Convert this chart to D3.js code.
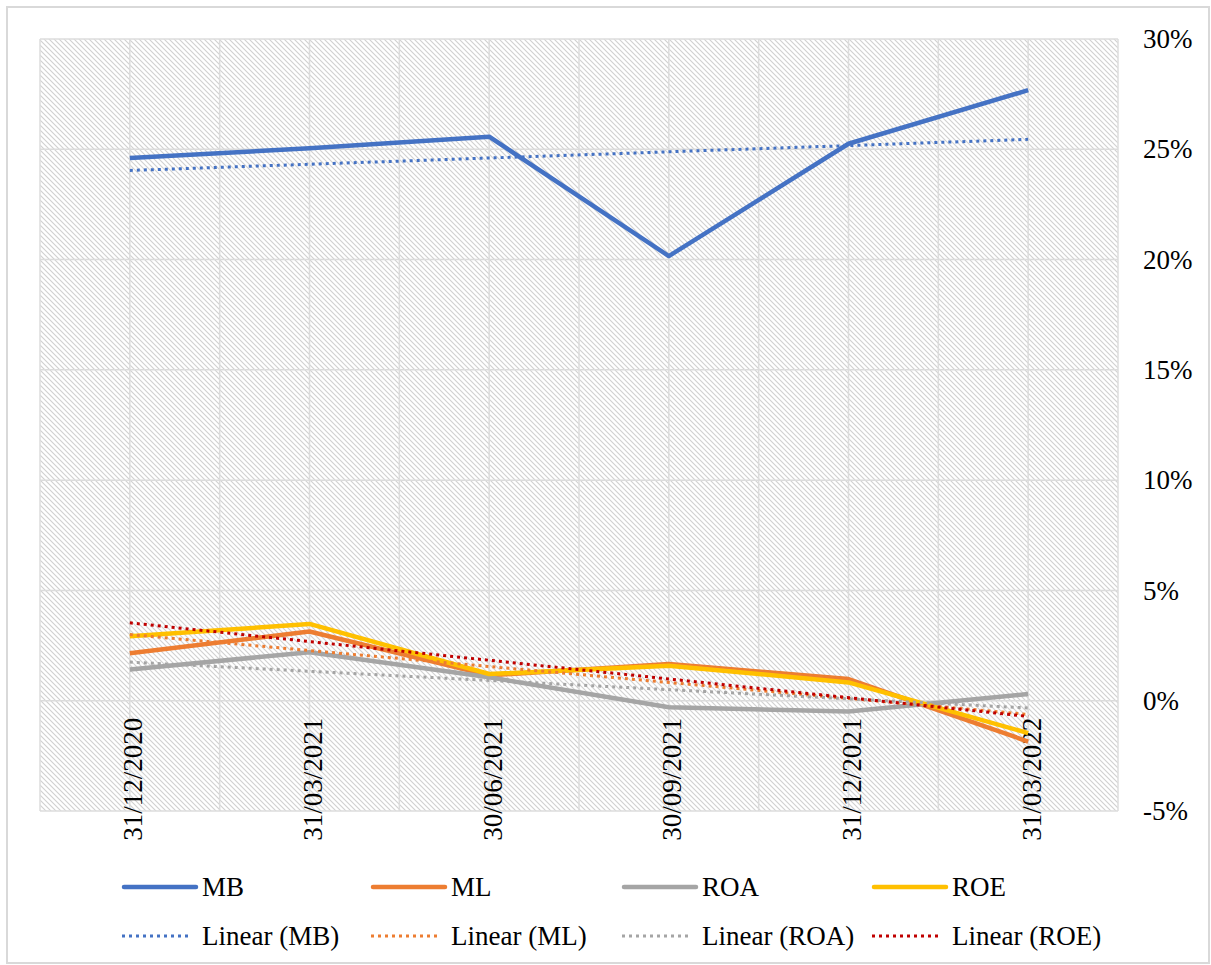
<!DOCTYPE html>
<html>
<head>
<meta charset="utf-8">
<script src="https://cdn.jsdelivr.net/npm/d3@7"></script>
<style>
  body { margin: 0; background: #fff; }
  svg { display: block; }
</style>
</head>
<body>
<div class="chart"></div>
<script>
// values (percent)
var categories = ["31/12/2020", "31/03/2021", "30/06/2021", "30/09/2021", "31/12/2021", "31/03/2022"];
var seriesNames = ["MB", "ML", "ROA", "ROE"];
var mbValues  = [24.6, 25.05, 25.57, 20.16, 25.25, 27.68];
var mlValues  = [2.15, 3.14, 1.15, 1.67, 0.98, -1.85];
var roaValues = [1.41, 2.2, 1.06, -0.3, -0.49, 0.3];
var roeValues = [2.92, 3.48, 1.21, 1.59, 0.83, -1.47];
// linear trend lines: value at first and last category
var trendStart = [24.04, 3.0, 1.75, 3.53];
var trendEnd   = [25.45, -0.62, -0.33, -0.71];
var yTicks = [-5, 0, 5, 10, 15, 20, 25, 30];

var colors = ["#4472C4", "#ED7D31", "#A5A5A5", "#FFC000"];
var trendColors = ["#4472C4", "#ED7D31", "#A5A5A5", "#C00000"];
var allValues = [mbValues, mlValues, roaValues, roeValues];
var serif = "'Liberation Serif', 'Times New Roman', Times, Tinos, 'Nimbus Roman', 'Nimbus Roman No9 L', FreeSerif, 'Noto Serif', 'DejaVu Serif', 'Noto Serif CJK SC', serif";

var W = 1211, H = 965;
var plot = {left: 40, right: 1118, top: 39, bottom: 811};

var svg = d3.select(".chart").append("svg")
    .attr("width", W)
    .attr("height", H);

// hatch pattern for the plot area
var defs = svg.append("defs");
var pat = defs.append("pattern")
    .attr("id", "hatch")
    .attr("patternUnits", "userSpaceOnUse")
    .attr("width", 5)
    .attr("height", 5);
pat.append("rect").attr("width", 5).attr("height", 5).attr("fill", "#fff");
pat.append("path")
    .attr("d", "M-1,-1 L6,6 M-1,4 L1,6 M4,-1 L6,1")
    .attr("stroke", "#d0d0d0")
    .attr("stroke-width", 1.1);

// outer chart border
svg.append("rect")
    .attr("x", 7).attr("y", 7)
    .attr("width", 1202).attr("height", 956)
    .attr("fill", "#fff")
    .attr("stroke", "#d9d9d9")
    .attr("stroke-width", 2);

var x = d3.scalePoint()
    .domain(categories)
    .range([plot.left, plot.right])
    .padding(0.5);

var y = d3.scaleLinear()
    .domain([-5, 30])
    .range([plot.bottom, plot.top]);

svg.append("rect")
    .attr("x", plot.left).attr("y", plot.top)
    .attr("width", plot.right - plot.left)
    .attr("height", plot.bottom - plot.top)
    .attr("fill", "url(#hatch)");

// gridlines
var grid = svg.append("g").attr("class", "grid");
var half = x.step() / 2;
var vlines = [];
categories.forEach(function(c) { vlines.push(x(c) - half); vlines.push(x(c)); });
vlines.push(x(categories[categories.length - 1]) + half);
grid.selectAll(".vl")
    .data(vlines)
  .enter().append("line")
    .attr("x1", function(d) { return d; })
    .attr("x2", function(d) { return d; })
    .attr("y1", plot.top).attr("y2", plot.bottom)
    .attr("stroke", "#dcdcdc")
    .attr("stroke-width", 1.5);
grid.selectAll(".hl")
    .data(yTicks)
  .enter().append("line")
    .attr("x1", plot.left).attr("x2", plot.right)
    .attr("y1", function(d) { return y(d); })
    .attr("y2", function(d) { return y(d); })
    .attr("stroke", "#dcdcdc")
    .attr("stroke-width", 1.5);

// right y axis
var yAxis = d3.axisRight(y)
    .tickValues(yTicks)
    .tickFormat(function(d) { return d + "%"; })
    .tickSize(0)
    .tickPadding(25);
svg.append("g")
    .attr("transform", "translate(" + plot.right + ",0)")
    .call(yAxis)
    .attr("font-family", serif)
    .attr("font-size", 27)
    .call(function(g) { g.select(".domain").remove(); })
    .selectAll("text")
    .attr("fill", "#000");

// x axis labels at the zero line, rotated
var xAxis = d3.axisBottom(x).tickSize(0);
svg.append("g")
    .attr("transform", "translate(0," + y(0) + ")")
    .call(xAxis)
    .attr("font-family", serif)
    .attr("font-size", 27)
    .call(function(g) { g.select(".domain").remove(); })
    .selectAll("text")
    .attr("fill", "#000")
    .attr("text-anchor", "end")
    .attr("transform", "rotate(-90)")
    .attr("x", -17)
    .attr("y", 12)
    .attr("dy", 0);

// series lines
var line = d3.line()
    .x(function(d, i) { return x(categories[i]); })
    .y(function(d) { return y(d); });

svg.selectAll(".series")
    .data(allValues)
  .enter().append("path")
    .attr("class", "series")
    .attr("d", function(d) { return line(d); })
    .attr("fill", "none")
    .attr("stroke", function(d, i) { return colors[i]; })
    .attr("stroke-width", 4.5)
    .attr("stroke-linejoin", "round");

// trend lines (dotted)
var last = categories[categories.length - 1];
svg.selectAll(".trend")
    .data(seriesNames)
  .enter().append("line")
    .attr("class", "trend")
    .attr("x1", x(categories[0]))
    .attr("x2", x(last))
    .attr("y1", function(d, i) { return y(trendStart[i]); })
    .attr("y2", function(d, i) { return y(trendEnd[i]); })
    .attr("stroke", function(d, i) { return trendColors[i]; })
    .attr("stroke-width", 3)
    .attr("stroke-dasharray", "3,4");

// legend
var legX = [122, 371, 622, 872];
var legend = svg.append("g")
    .attr("font-family", serif)
    .attr("font-size", 27);
var leg1 = legend.selectAll(".leg1")
    .data(seriesNames)
  .enter().append("g")
    .attr("class", "leg1")
    .attr("transform", function(d, i) { return "translate(" + legX[i] + ",887)"; });
leg1.append("line")
    .attr("x1", 2).attr("x2", 74)
    .attr("stroke", function(d, i) { return colors[i]; })
    .attr("stroke-width", 4.5)
    .attr("stroke-linecap", "round");
leg1.append("text")
    .attr("x", 80)
    .attr("dy", "0.35em")
    .text(function(d) { return d; });

var leg2 = legend.selectAll(".leg2")
    .data(seriesNames)
  .enter().append("g")
    .attr("class", "leg2")
    .attr("transform", function(d, i) { return "translate(" + legX[i] + ",936)"; });
leg2.append("line")
    .attr("x1", 0).attr("x2", 70)
    .attr("stroke", function(d, i) { return trendColors[i]; })
    .attr("stroke-width", 3)
    .attr("stroke-dasharray", "3,4");
leg2.append("text")
    .attr("x", 80)
    .attr("dy", "0.35em")
    .text(function(d) { return "Linear (" + d + ")"; });
</script>
</body>
</html>
